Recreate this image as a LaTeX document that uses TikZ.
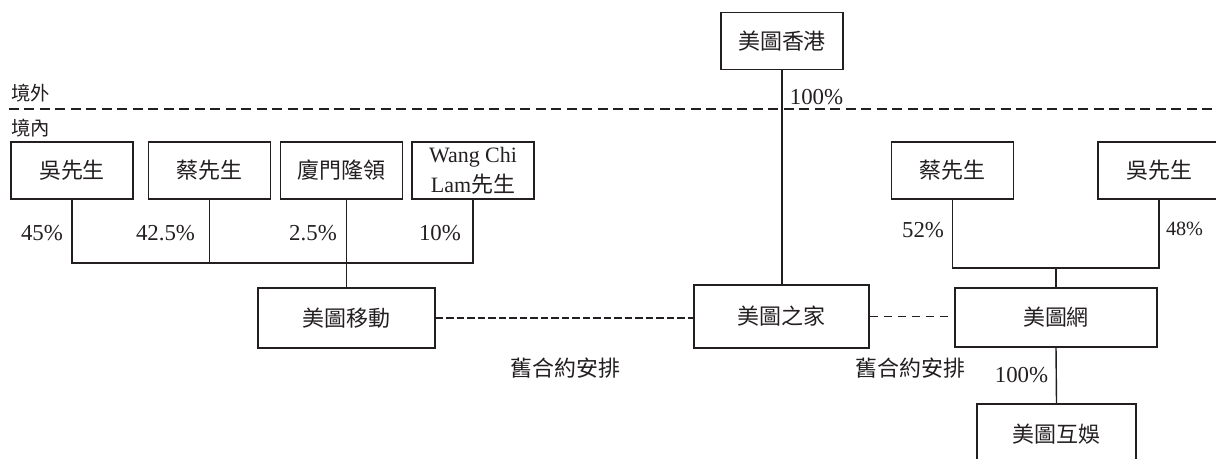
\documentclass[tikz,border=0pt]{standalone}
\usepackage{fontspec}
\setmainfont{Liberation Serif}
\newfontfamily\cjk{Noto Sans CJK TC}
\usetikzlibrary{positioning}
\definecolor{ink}{RGB}{35,31,32}

\begin{document}
\begin{tikzpicture}[
    x=0.02cm, y=-0.02cm,
    box/.style={rectangle, draw=ink, line width=0.75pt, text=ink, align=center, minimum width=2.44cm, minimum height=1.14cm, inner sep=1pt, font=\fontsize{12.5}{17}\selectfont\cjk},
    link/.style={draw=ink, line width=0.8pt},
    border/.style={draw=ink, line width=0.8pt, dash pattern=on 0.2cm off 0.11cm},
    deal/.style={draw=ink, line width=0.8pt, dash pattern=on 0.15cm off 0.06cm},
    pct/.style={text=ink, font=\fontsize{13}{15}\selectfont, inner sep=0pt},
    note/.style={text=ink, font=\fontsize{12.5}{15}\selectfont\cjk, inner sep=0pt}
]
\useasboundingbox (0,0) rectangle (1216,458);

% offshore / onshore
\coordinate (borderL) at (9,109);
\coordinate (borderR) at (1216,109);
\draw[border] (borderL) -- (borderR);
\node[note, font=\fontsize{11}{13}\selectfont\cjk] (offshore) at (31,93) {境外};
\node[note, font=\fontsize{11}{13}\selectfont\cjk] (onshore) at (31,128) {境內};

% top of the structure
\node[box] (hk) at (782,41) {美圖香港};

% shareholders on the left
\node[box] (wuA) at (72,170.5) {吳先生};
\node[box] (caiA) at (209.5,170.5) {蔡先生};
\node[box] (xiamen) at (341.5,170.5) {廈門隆領};
\node[box] (wang) at (473,170.5) {{\rmfamily Wang Chi}\\{\rmfamily Lam}先生};

% shareholders on the right
\node[box, line width=1.1pt] (caiB) at (952.5,170.5) {蔡先生};
\node[box] (wuB) at (1159,170.5) {吳先生};

% operating entities
\node[box, minimum width=3.54cm, minimum height=1.2cm] (mobile) at (346.5,318) {美圖移動};
\node[box, minimum width=3.5cm, minimum height=1.26cm] (home) at (781.5,316.5) {美圖之家};
\node[box, minimum width=4.04cm, minimum height=1.18cm] (net) at (1056,317.5) {美圖網};
\node[box, minimum width=3.18cm, minimum height=1.2cm] (fun) at (1056.5,434) {美圖互娛};

% ownership lines
\coordinate (joinL) at (mobile.north |- 0,263);
\coordinate (joinR) at (net.north |- 0,268);
\draw[link] (wuA.south) |- (joinL) -| (wang.south);
\draw[link] (caiA.south) -- (caiA.south |- joinL);
\draw[link] (xiamen.south -| mobile.north) -- (mobile.north);
\draw[link] (caiB.south) |- (joinR) -| (wuB.south);
\draw[link] (joinR) -- (net.north);
\draw[link] (hk.south) -- (hk.south |- home.north);
\draw[link] (net.south) -- (fun.north);

% contractual arrangements
\draw[deal] (mobile.east) -- (mobile.east -| home.west);
\draw[deal, dash pattern=on 0.16cm off 0.12cm] (home.east) -- (home.east -| net.west);
\node[note] (dealL) at (565.5,368) {舊合約安排};
\node[note] (dealR) at (910.5,368) {舊合約安排};

% percentages
\node[pct] (pHK) at (816.5,97) {100\%};
\node[pct] (pWu) at (42,233) {45\%};
\node[pct] (pCai) at (165.5,233) {42.5\%};
\node[pct] (pXm) at (313,233) {2.5\%};
\node[pct] (pWang) at (440,233) {10\%};
\node[pct] (pCaiB) at (923,230) {52\%};
\node[pct, font=\fontsize{11.5}{13}\selectfont] (pWuB) at (1184.5,229) {48\%};
\node[pct] (pFun) at (1021.5,375) {100\%};

\end{tikzpicture}
\end{document}
